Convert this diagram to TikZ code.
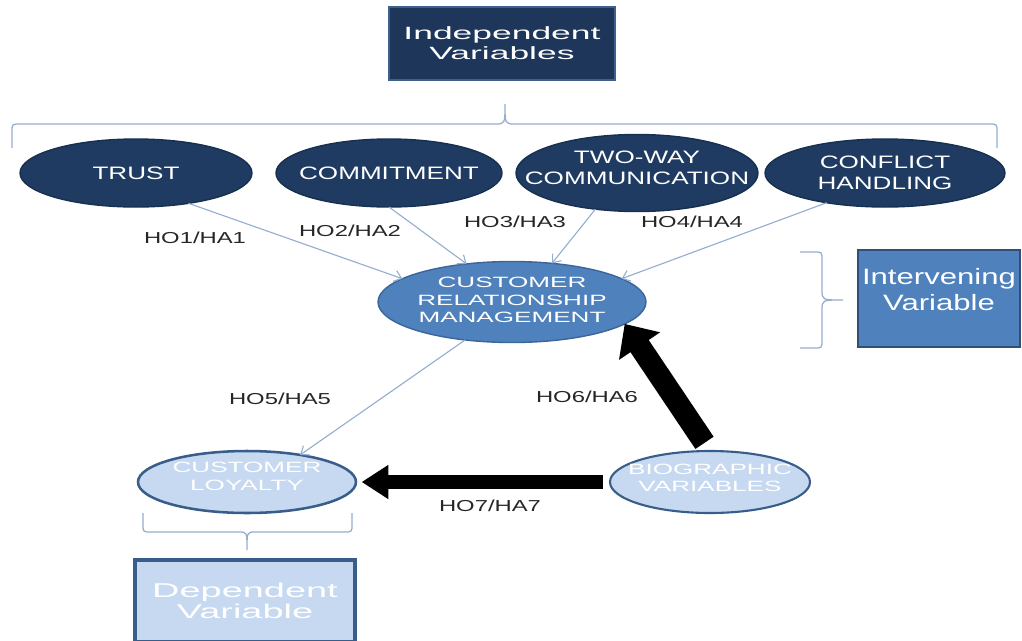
\documentclass[tikz,border=0pt]{standalone}
\usepackage{fontspec}
\usetikzlibrary{shapes.geometric,arrows.meta}
\setmainfont{Liberation Sans}
\newfontfamily\ellfont[FakeStretch=1.45]{Liberation Sans}
\newfontfamily\crmfont[FakeStretch=1.75]{Liberation Sans}
\newfontfamily\indfont[FakeStretch=2.0]{Liberation Sans}
\newfontfamily\intfont[FakeStretch=1.4]{Liberation Sans}
\newfontfamily\depfont[FakeStretch=1.9]{Liberation Sans}
\newfontfamily\hypfont[FakeStretch=1.5]{Liberation Sans}
\newdimen\pxu \pxu=0.025cm

\definecolor{navy}{HTML}{1F3B62}
\definecolor{navyline}{HTML}{17304F}
\definecolor{boxline}{HTML}{3F5F8C}
\definecolor{midblue}{HTML}{4F81BD}
\definecolor{midline}{HTML}{3B6699}
\definecolor{paleblue}{HTML}{C6D9F1}
\definecolor{darkline}{HTML}{385D8A}
\definecolor{linkblue}{HTML}{94AED0}

\tikzset{
  topvar/.style={ellipse, fill=navy, draw=navyline, line width=1pt, inner sep=0pt, outer sep=0pt},
  crmell/.style={ellipse, fill=midblue, draw=midline, line width=1pt, inner sep=0pt, outer sep=0pt},
  paleell/.style={ellipse, fill=paleblue, draw=darkline, line width=1.5pt, inner sep=0pt, outer sep=0pt},
  toptext/.style={text=white, align=center, inner sep=0pt, font=\ellfont\fontsize{12.8}{14.9}\selectfont},
  lowtext/.style={text=white, align=center, inner sep=0pt, font=\crmfont\fontsize{10.6}{12.4}\selectfont},
  indbox/.style={rectangle, fill=navy!92!black, draw=boxline, line width=1pt, text=white, align=center,
    font=\indfont\fontsize{12.6}{14.2}\selectfont},
  intbox/.style={rectangle, fill=midblue, draw=darkline!85!black, line width=1.4pt, inner sep=0pt},
  inttext/.style={text=white, align=center, inner sep=0pt, font=\intfont\fontsize{15.8}{18.4}\selectfont},
  depbox/.style={rectangle, fill=paleblue, draw=darkline, line width=2.5pt, text=white, align=center,
    font=\depfont\fontsize{14.2}{14.9}\selectfont},
  hyp/.style={text=black!85, inner sep=1pt, font=\hypfont\fontsize{11.3}{13}\selectfont},
  link/.style={draw=linkblue, line width=0.8pt, -{Straight Barb[length=5pt,width=8pt]}},
  bigarrow/.style={draw=black, line cap=butt},
  brc/.style={draw=linkblue, line width=0.9pt}
}

\begin{document}
\begin{tikzpicture}[x=0.025cm,y=-0.025cm]
    \useasboundingbox (0,0) rectangle (1022,640);

    % variable boxes
    \node[indbox, minimum width=226\pxu, minimum height=73\pxu] (indep) at (502,43.5) {Independent\\Variables};
    \node[intbox, minimum width=162\pxu, minimum height=97\pxu,
      label={[inttext, yshift=6.5pt]center:{Intervening\\Variable}}] (interv) at (939,298.5) {};
    \node[depbox, minimum width=220\pxu, minimum height=82\pxu] (dep) at (245,601) {Dependent\\Variable};

    % braces
    \draw[brc] (12,148) -- (12,132) .. controls (12,124) .. (20,124) -- (495,124)
      .. controls (505,124) .. (505,104) .. controls (505,124) .. (515,124) -- (989,124)
      .. controls (997,124) .. (997,132) -- (997,148);
    \draw[brc] (800,252) -- (814,252) .. controls (822,252) .. (822,260) -- (822,290)
      .. controls (822,300) .. (843,300) .. controls (822,300) .. (822,310) -- (822,340)
      .. controls (822,348) .. (814,348) -- (800,348);
    \draw[brc] (143,513) -- (143,524) .. controls (143,532) .. (151,532) -- (239,532)
      .. controls (247,532) .. (247,550) .. controls (247,532) .. (255,532) -- (344,532)
      .. controls (352,532) .. (352,524) -- (352,513);

    % independent variables
    \node[topvar, minimum width=232\pxu, minimum height=68\pxu, label={[toptext]center:TRUST}] (trust) at (136,173) {};
    \node[topvar, minimum width=226\pxu, minimum height=68\pxu, label={[toptext]center:COMMITMENT}] (commit) at (389,173) {};
    \node[topvar, minimum width=242\pxu, minimum height=77\pxu,
      label={[toptext, yshift=3.5pt]center:{TWO-WAY\\COMMUNICATION}}] (twoway) at (637,173) {};
    \node[topvar, minimum width=240\pxu, minimum height=68\pxu,
      label={[toptext]center:{CONFLICT\\HANDLING}}] (conflict) at (885,173) {};

    % intervening, dependent, biographic
    \node[crmell, minimum width=268\pxu, minimum height=81\pxu,
      label={[lowtext, yshift=1.5pt]center:{CUSTOMER\\RELATIONSHIP\\MANAGEMENT}}] (crm) at (512,302) {};
    \node[paleell, line width=1.8pt, minimum width=218\pxu, minimum height=62\pxu,
      label={[lowtext, yshift=4pt]center:{CUSTOMER\\LOYALTY}}] (loyal) at (247,482) {};
    \node[paleell, minimum width=200\pxu, minimum height=62\pxu,
      label={[lowtext, yshift=3pt]center:{BIOGRAPHIC\\VARIABLES}}] (bio) at (710,482) {};

    % hypotheses
    \draw[link] (trust.-30) -- (crm.168);
    \draw[link] (commit.south) -- (crm.140);
    \draw[link] (twoway.-139) -- (crm.44);
    \draw[link] (conflict.-153) -- (crm.12);
    \draw[link] (crm.-141) -- (loyal.27);
    \draw[bigarrow, line width=15.6pt, -{Triangle[width=34pt,length=19pt]}, shorten <=7pt] (bio.north) -- (crm.-11);
    \draw[bigarrow, line width=10pt, -{Triangle[width=23pt,length=19pt]}, shorten <=5pt, shorten >=4pt] (bio.west) -- (loyal.east);

    \node[hyp] (h1) at (195,238) {HO1/HA1};
    \node[hyp] (h2) at (350,231) {HO2/HA2};
    \node[hyp] (h3) at (515,222) {HO3/HA3};
    \node[hyp] (h4) at (692,222) {HO4/HA4};
    \node[hyp] (h5) at (280,399) {HO5/HA5};
    \node[hyp] (h6) at (587,397) {HO6/HA6};
    \node[hyp] (h7) at (490,506) {HO7/HA7};
\end{tikzpicture}
\end{document}
